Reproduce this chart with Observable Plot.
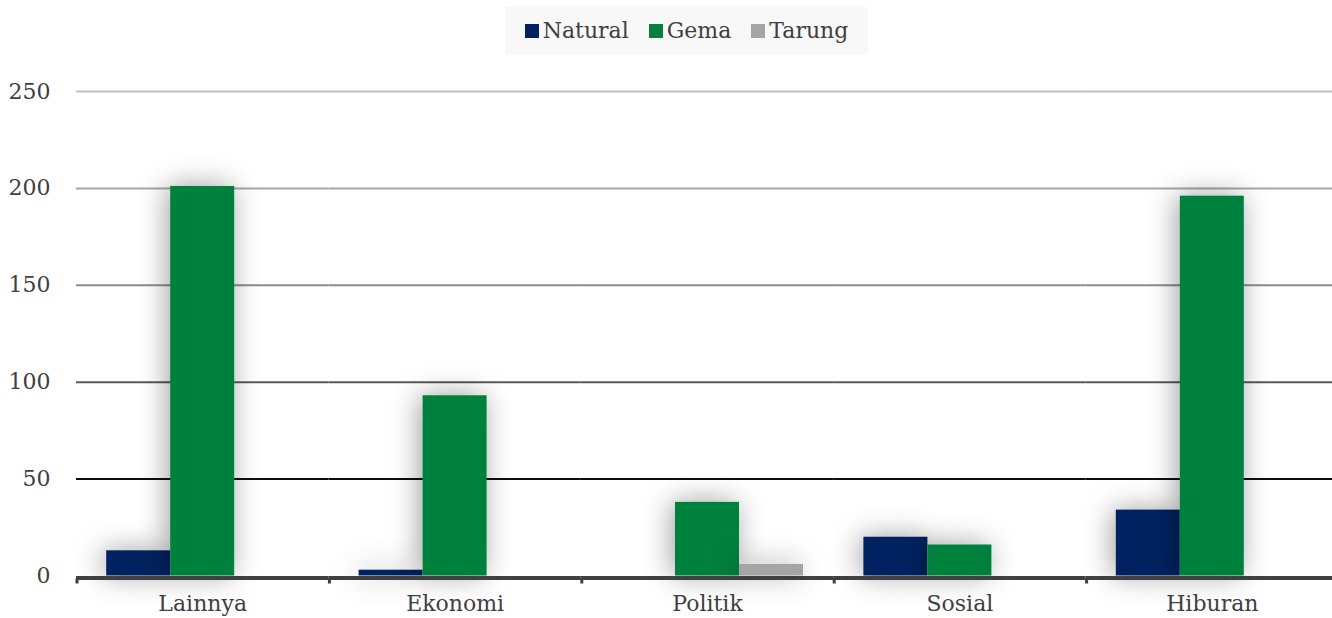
<!DOCTYPE html>
<html>
<head>
<meta charset="utf-8">
<script src="https://cdn.jsdelivr.net/npm/d3@7"></script>
<script src="https://cdn.jsdelivr.net/npm/@observablehq/plot@0.6"></script>
<style>
  html, body { margin: 0; padding: 0; background: #ffffff; overflow: hidden; }
  body { width: 1332px; height: 618px; font-family: "DejaVu Serif", "Liberation Serif", serif; color: #404040; }
  #legend-row { height: 62px; position: relative; }
  #legend { position: absolute; left: 505px; top: 7px; width: 363px; height: 47px; background: #f8f8f8;
            display: flex; align-items: center; justify-content: center; gap: 20px; font-size: 22px; }
  .item { display: flex; align-items: center; gap: 4px; }
  .sw { width: 14px; height: 14px; display: inline-block; }
  #chart svg { display: block; }
</style>
</head>
<body>
<div id="legend-row"><div id="legend"></div></div>
<div id="chart"></div>
<script>
const categories = ["Lainnya", "Ekonomi", "Politik", "Sosial", "Hiburan"];
const series = ["Natural", "Gema", "Tarung"];
const naturalValues = [13, 3, 0, 20, 34];
const gemaValues = [201, 93, 38, 16, 196];
const tarungValues = [0, 0, 6, 0, 0];
const yTicks = [0, 50, 100, 150, 200, 250];

const seriesColors = ["#002060", "#05803C", "#A5A5A5"];
const gridColors = {50: "#0d0d0d", 100: "#595959", 150: "#8c8c8c", 200: "#a6a6a6", 250: "#bfbfbf"};

const valuesBySeries = [naturalValues, gemaValues, tarungValues];
const data = [];
categories.forEach((c, i) => series.forEach((s, j) => data.push({category: c, series: s, value: valuesBySeries[j][i]})));

// legend
const legend = document.getElementById("legend");
series.forEach((s, j) => {
  const it = document.createElement("div");
  it.className = "item";
  const sw = document.createElement("span");
  sw.className = "sw";
  sw.style.background = seriesColors[j];
  const t = document.createElement("span");
  t.textContent = s;
  it.appendChild(sw); it.appendChild(t);
  legend.appendChild(it);
});

const gridMarks = yTicks.filter(t => t > 0).map(t =>
  Plot.ruleY([t], {stroke: gridColors[t], strokeWidth: 2})
);

const chart = Plot.plot({
  width: 1332,
  height: 556,
  marginLeft: 76,
  marginRight: -6,
  marginTop: 29,
  marginBottom: 42.5,
  style: {fontFamily: "DejaVu Serif, Liberation Serif, serif", fontSize: "22px", color: "#404040", background: "transparent", overflow: "visible"},
  fx: {domain: categories, padding: 0, round: false, label: null},
  x: {domain: series, paddingInner: 0, paddingOuter: 0.472, round: false, axis: null},
  y: {domain: [0, 250], label: null},
  color: {domain: series, range: seriesColors},
  marks: [
    ...gridMarks,
    Plot.barY(data, {fx: "category", x: "series", y: "value", fill: "series"}),
    Plot.ruleY([0], {stroke: "#404040", strokeWidth: 4, dy: 2}),
    Plot.axisY({ticks: yTicks, tickSize: 0, tickPadding: 26, fontSize: 22, fill: "#404040", label: null}),
    Plot.axisFx({anchor: "bottom", tickSize: 0, tickPadding: 19, fontSize: 22, fill: "#404040", label: null})
  ]
});

document.getElementById("chart").appendChild(chart);

// soft shadow on bars
const svg = d3.select(chart);
const defs = svg.insert("defs", ":first-child");
const f = defs.append("filter").attr("id", "barShadow")
  .attr("filterUnits", "userSpaceOnUse")
  .attr("x", 0).attr("y", 0).attr("width", 1400).attr("height", 600);
f.append("feDropShadow").attr("dx", -3).attr("dy", 0).attr("stdDeviation", 14)
  .attr("flood-color", "#000").attr("flood-opacity", 0.38);
svg.selectAll("g[aria-label='bar'] rect").attr("filter", "url(#barShadow)");

// category boundary ticks on the x axis, placed with the fx scale
const fx = chart.scale("fx");
const y = chart.scale("y");
const y0 = y.apply(0);
const ticks = svg.append("g").attr("aria-label", "fx-boundary-ticks");
categories.forEach(c => {
  const xb = fx.apply(c);
  ticks.append("line")
    .attr("x1", xb + 1).attr("x2", xb + 1)
    .attr("y1", y0 + 3).attr("y2", y0 + 8)
    .attr("stroke", "#404040").attr("stroke-width", 3);
});
</script>
</body>
</html>
